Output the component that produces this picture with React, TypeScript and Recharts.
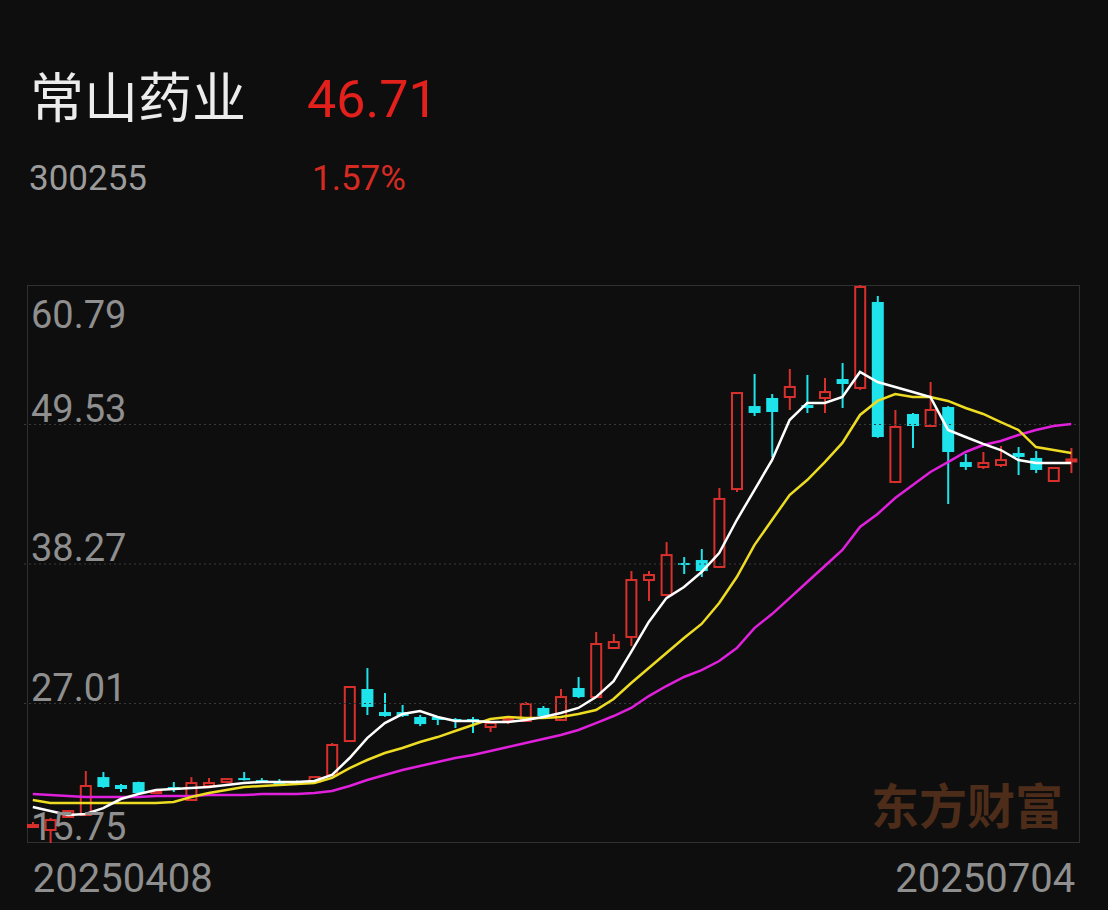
import React from 'react';
import { ComposedChart, Bar, Line, XAxis, YAxis, ReferenceLine } from 'recharts';

const dates = [
  '20250408', '20250409', '20250410', '20250411', '20250414', '20250415', '20250416', '20250417', '20250418',
  '20250421', '20250422', '20250423', '20250424', '20250425', '20250428', '20250429', '20250430',
  '20250506', '20250507', '20250508', '20250509', '20250512', '20250513', '20250514', '20250515', '20250516',
  '20250519', '20250520', '20250521', '20250522', '20250523', '20250526', '20250527', '20250528', '20250529', '20250530',
  '20250603', '20250604', '20250605', '20250606', '20250609', '20250610', '20250611', '20250612', '20250613',
  '20250616', '20250617', '20250618', '20250619', '20250620', '20250623', '20250624', '20250625', '20250626', '20250627',
  '20250630', '20250701', '20250702', '20250703', '20250704',
];

const openP = [
  17.12, 16.8, 17.85, 18.01, 21.07, 20.43, 20.67, 19.78, 20.27, 19.22,
  20.35, 20.67, 20.99, 20.83, 20.75, 20.7, 20.67, 21.23, 23.98, 28.18,
  26.32, 26.32, 25.92, 25.92, 25.76, 25.76, 25.11, 25.6, 25.6, 26.65,
  25.68, 28.26, 27.53, 31.49, 32.38, 36.98, 35.77, 38.35, 38.59, 38.03,
  44.32, 51.02, 51.67, 51.75, 51.1, 51.67, 53.2, 52.48, 59.42, 44.89,
  50.38, 49.41, 50.94, 46.5, 46.1, 46.26, 47.23, 46.83, 44.97, 46.6,
];
const highP = [
  17.45, 17.77, 18.4, 21.56, 21.48, 20.51, 20.7, 20.03, 20.67, 21.07,
  20.99, 20.99, 21.48, 20.99, 20.91, 20.8, 21.1, 23.82, 28.42, 29.87,
  27.86, 26.89, 26.08, 25.95, 25.84, 25.92, 25.5, 25.92, 27.13, 26.81,
  28.18, 29.15, 32.78, 32.62, 37.7, 37.7, 40.04, 38.83, 39.48, 44.4,
  52.15, 53.61, 51.99, 54.01, 53.53, 53.28, 54.49, 60.79, 59.9, 50.7,
  50.45, 52.96, 51.02, 47.15, 47.31, 47.79, 47.71, 47.39, 46.1, 47.63,
];
const lowP = [
  16.96, 15.75, 17.8, 17.95, 20.2, 19.86, 19.62, 19.7, 19.86, 19.15,
  20.3, 20.6, 20.8, 20.59, 20.35, 20.5, 20.6, 21.15, 23.9, 26.08,
  25.95, 25.92, 25.19, 25.27, 25.03, 24.63, 24.71, 25.35, 25.55, 25.92,
  25.6, 27.45, 27.45, 31.4, 31.65, 35.28, 35.7, 37.46, 37.22, 37.95,
  44.08, 50.22, 46.91, 50.7, 50.46, 50.46, 50.86, 52.31, 48.45, 44.8,
  47.63, 49.35, 43.11, 45.86, 45.94, 46.1, 45.45, 45.61, 44.9, 45.61,
];
const closeP = [
  17.2, 17.6, 18.33, 20.35, 20.27, 20.11, 19.78, 19.95, 20.03, 20.59,
  20.59, 20.91, 20.83, 20.75, 20.51, 20.6, 21.07, 23.66, 28.34, 26.73,
  26.0, 26.0, 25.35, 25.68, 25.6, 25.6, 25.43, 25.76, 26.97, 26.0,
  27.53, 27.53, 31.81, 31.97, 36.98, 37.38, 38.99, 38.19, 37.7, 43.52,
  52.07, 50.46, 50.54, 52.56, 50.86, 52.15, 52.8, 60.63, 48.52, 49.33,
  49.41, 50.7, 47.31, 46.1, 46.42, 46.66, 46.91, 45.86, 46.02, 46.71,
];

const ma5 = [
  18.65, 18.33, 18.01, 18.09, 18.57, 19.3, 19.7, 20.03, 20.11, 20.19,
  20.27, 20.43, 20.59, 20.67, 20.67, 20.67, 20.75, 21.24, 22.61, 24.22,
  25.43, 26.16, 26.4, 25.92, 25.6, 25.6, 25.52, 25.52, 25.68, 25.92,
  26.24, 26.65, 27.53, 28.82, 31.17, 33.59, 35.52, 36.41, 37.62, 39.16,
  41.82, 44.24, 46.66, 49.89, 51.27, 51.27, 51.75, 53.77, 52.96, 52.56,
  52.15, 51.75, 49.09, 48.52, 47.96, 47.47, 46.66, 46.42, 46.42, 46.42,
];
const ma10 = [
  19.22, 18.98, 18.98, 18.98, 18.98, 18.98, 18.98, 18.98, 19.06, 19.46,
  19.78, 20.03, 20.27, 20.35, 20.43, 20.51, 20.59, 21.0, 21.8, 22.45,
  23.01, 23.42, 23.9, 24.3, 24.79, 25.27, 25.76, 25.92, 25.84, 25.84,
  25.92, 26.16, 26.48, 27.37, 28.66, 29.87, 31.09, 32.3, 33.43, 35.12,
  37.22, 39.8, 41.82, 43.84, 45.05, 46.5, 48.04, 50.3, 51.43, 51.99,
  51.75, 51.75, 51.43, 50.86, 50.38, 49.73, 49.09, 47.71, 47.47, 47.23,
];
const ma20 = [
  19.7, 19.62, 19.54, 19.46, 19.46, 19.46, 19.46, 19.54, 19.54, 19.54,
  19.62, 19.62, 19.62, 19.7, 19.7, 19.7, 19.78, 19.95, 20.35, 20.83,
  21.24, 21.64, 21.96, 22.29, 22.61, 22.85, 23.17, 23.5, 23.82, 24.14,
  24.47, 24.87, 25.43, 26.0, 26.65, 27.61, 28.42, 29.15, 29.71, 30.44,
  31.49, 33.1, 34.23, 35.52, 36.82, 38.11, 39.4, 41.26, 42.31, 43.6,
  44.65, 45.7, 46.5, 47.31, 47.87, 48.2, 48.68, 49.09, 49.41, 49.57,
];

const yTicks = [60.79, 49.53, 38.27, 27.01, 15.75];
const gridLevels = [49.53, 38.27, 27.01];
const dateLabels = [dates[0], dates[dates.length - 1]];

const RED = '#d8302c';
const CYAN = '#1fe3ea';
const BG = '#0e0e0e';
const GREY = '#8f8f8f';

const data = dates.map((date, i) => ({
  date,
  open: openP[i],
  high: highP[i],
  low: lowP[i],
  close: closeP[i],
  ma5: ma5[i],
  ma10: ma10[i],
  ma20: ma20[i],
}));

// candle drawn inside the low-high range bar that recharts lays out
const Candle = (props: any) => {
  const { x, y, width, height, payload } = props;
  if (!payload) return null;
  const { open, close, high, low } = payload;
  const top = Math.min(y, y + height);
  const h = Math.abs(height);
  const span = high - low;
  const toY = (v: number) => (span === 0 ? top : top + ((high - v) / span) * h);
  const up = close >= open;
  const color = up ? RED : CYAN;
  const cx = x + width / 2;
  const bTop = toY(Math.max(open, close));
  const bBot = toY(Math.min(open, close));
  const bh = Math.max(bBot - bTop, 2);
  if (up) {
    return (
      <g>
        <line x1={cx} x2={cx} y1={toY(high)} y2={bTop} stroke={color} strokeWidth={2} />
        <line x1={cx} x2={cx} y1={bTop + bh} y2={toY(low)} stroke={color} strokeWidth={2} />
        <rect x={x + 1} y={bTop} width={width - 2} height={bh} fill={BG} stroke={color} strokeWidth={2} />
      </g>
    );
  }
  return (
    <g>
      <line x1={cx} x2={cx} y1={toY(high)} y2={toY(low)} stroke={color} strokeWidth={2} />
      <rect x={x} y={bTop} width={width} height={bh} fill={color} />
    </g>
  );
};

const priceLabel = (v: number) => (p: any) => {
  const vb = p.viewBox || {};
  const first = v === yTicks[0];
  return (
    <text x={31} y={first ? vb.y + 43 : vb.y - 3} fill={GREY} fontSize={38} fontFamily="Roboto" textAnchor="start">
      {v.toFixed(2)}
    </text>
  );
};

const dateLabel = (d: string) => (p: any) => {
  const vb = p.viewBox || {};
  const first = d === dates[0];
  return (
    <text
      x={first ? vb.x : vb.x + 4}
      y={vb.y + vb.height + 49}
      fill={GREY}
      fontSize={40}
      fontFamily="Roboto"
      textAnchor={first ? 'start' : 'end'}
    >
      {d}
    </text>
  );
};

export default function App() {
  return (
    <div style={{ position: 'absolute', left: 0, top: 0, width: 1108, height: 910, background: BG, overflow: 'hidden' }}>
      <svg width={1108} height={910} style={{ position: 'absolute', left: 0, top: 0 }}>
        <text x={30} y={118} fill="#ececec" fontSize={54} fontFamily="Noto Sans CJK SC">常山药业</text>
        <text x={307} y={117} fill="#e3201b" fontSize={52} fontFamily="Roboto">46.71</text>
        <text x={29} y={190} fill="#9c9c9c" fontSize={35} fontFamily="Roboto">300255</text>
        <text x={312} y={190} fill="#d42a22" fontSize={35} fontFamily="Roboto">1.57%</text>
        <text x={871} y={824} fill="#4d2c1a" fontSize={48} fontWeight="bold" fontFamily="Noto Sans CJK SC">东方财富</text>
      </svg>
      <div
        style={{
          position: 'absolute', left: 27, top: 285, width: 1053, height: 558,
          border: '1.5px solid #303030', boxSizing: 'border-box',
        }}
      />
      <div style={{ position: 'absolute', left: 0, top: 0 }}>
        <ComposedChart width={1108} height={910} data={data} margin={{ top: 285, right: 28, bottom: 67, left: 24 }}>
          <XAxis dataKey="date" hide />
          <YAxis type="number" domain={[15.75, 60.79]} allowDataOverflow hide />
          {gridLevels.map((v) => (
            <ReferenceLine key={'g' + v} y={v} stroke="#3a3a3a" strokeDasharray="2 3" />
          ))}
          <Bar dataKey={(d: any) => [d.low, d.high]} barSize={12} shape={(p: any) => <Candle {...p} />} isAnimationActive={false} />
          <Line type="linear" dataKey="ma20" stroke="#e020dc" strokeWidth={2.5} dot={false} isAnimationActive={false} />
          <Line type="linear" dataKey="ma10" stroke="#eedc22" strokeWidth={2.5} dot={false} isAnimationActive={false} />
          <Line type="linear" dataKey="ma5" stroke="#ffffff" strokeWidth={2.5} dot={false} isAnimationActive={false} />
          {yTicks.map((v) => (
            <ReferenceLine key={'t' + v} y={v} stroke="none" label={priceLabel(v)} />
          ))}
          {dateLabels.map((d) => (
            <ReferenceLine key={'d' + d} x={d} stroke="none" label={dateLabel(d)} />
          ))}
        </ComposedChart>
      </div>
    </div>
  );
}
